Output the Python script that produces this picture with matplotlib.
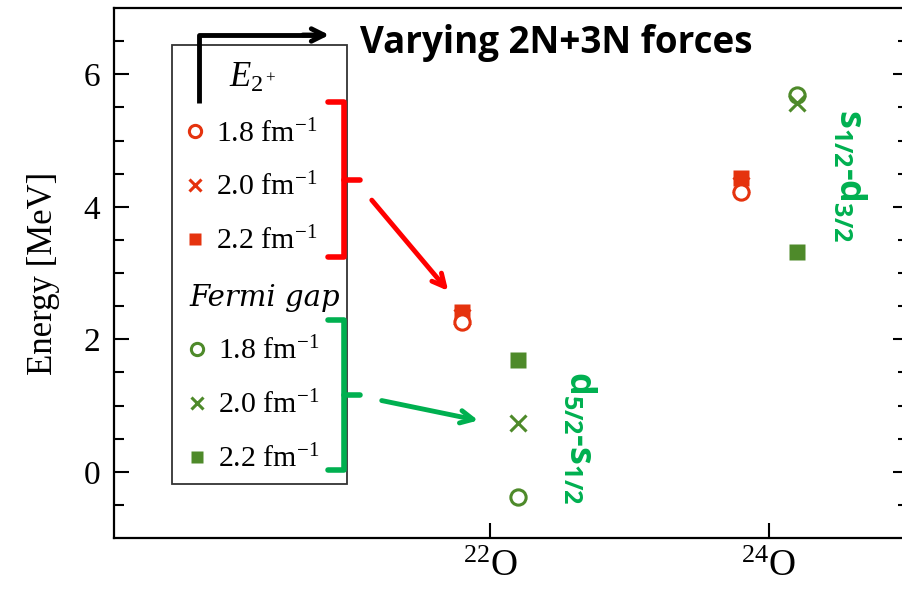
import numpy as np
import matplotlib.pyplot as plt
from matplotlib.patches import Rectangle
from matplotlib.lines import Line2D

# Nuclei positions and energies (MeV) for three cutoffs
nuclei = [22, 24]
nuc_labels = [r'$^{22}$O', r'$^{24}$O']
cutoffs = ['1.8 fm$^{-1}$', '2.0 fm$^{-1}$', '2.2 fm$^{-1}$']

e2_x = [21.8, 23.8]
e2_18 = [2.26, 4.22]
e2_20 = [2.33, 4.33]
e2_22 = [2.41, 4.43]

gap_x = [22.2, 24.2]
gap_18 = [-0.38, 5.68]
gap_20 = [0.74, 5.57]
gap_22 = [1.69, 3.32]

red = '#e5330e'
olive = '#4e8a2a'
bright_green = '#00b050'

plt.rcParams['font.family'] = ['DejaVu Serif']
plt.rcParams['font.serif'] = ['Liberation Serif']
plt.rcParams['mathtext.fontset'] = 'custom'
plt.rcParams['mathtext.rm'] = 'Liberation Serif'
plt.rcParams['mathtext.it'] = 'Liberation Serif:italic'
plt.rcParams['mathtext.bf'] = 'Open Sans:bold'

fig = plt.figure(figsize=(9.03, 5.93), dpi=100)
ax = fig.add_axes([0.1262, 0.0927, 0.8793, 0.8938])

ms = 11
ax.plot(e2_x, e2_20, 'x', color=red, ms=ms, mew=2.2)
ax.plot(e2_x, e2_22, 's', color=red, ms=ms, mec='none')
ax.plot(e2_x, e2_18, 'o', color=red, mfc='white', ms=ms, mew=2.2)

ax.plot(gap_x, gap_18, 'o', color=olive, mfc='white', ms=ms, mew=2.2)
ax.plot(gap_x, gap_20, 'x', color=olive, ms=ms, mew=2.2)
ax.plot(gap_x, gap_22, 's', color=olive, ms=ms, mec='none')

ax.set_xlim(19.3, 25.0)
ax.set_ylim(-1, 7)
ax.set_xticks(nuclei)
ax.set_xticklabels(nuc_labels, fontfamily='Liberation Serif', fontsize=27)
ax.set_yticks([0, 2, 4, 6])
ax.set_yticks(np.arange(-0.5, 7, 0.5), minor=True)
ax.tick_params(axis='y', which='both', direction='in', right=True, labelsize=24, width=1.5, pad=10)
ax.tick_params(axis='y', which='major', length=11)
ax.tick_params(axis='y', which='minor', length=7)
ax.tick_params(axis='x', direction='in', length=11, width=1.5, pad=8)
for lab in ax.get_yticklabels():
    lab.set_fontfamily('Liberation Serif')
for s in ax.spines.values():
    s.set_linewidth(1.6)
ax.set_ylabel('Energy [MeV]', fontfamily='Liberation Serif', fontsize=25, labelpad=17)

# Legend box with two grouped legends inside
box = Rectangle((172 / 903, 1 - 484 / 593), (347 - 172) / 903, (484 - 45) / 593,
                transform=fig.transFigure, fill=False, ec='#333333', lw=1.3, zorder=5)
fig.patches.append(box)

def group_handles(color):
    return [Line2D([], [], ls='none', marker='o', color=color, mfc='white', ms=ms, mew=2.2),
            Line2D([], [], ls='none', marker='x', color=color, ms=ms, mew=2.2),
            Line2D([], [], ls='none', marker='s', color=color, ms=ms, mec='none')]

leg_kw = dict(frameon=False, markerscale=0.8, handlelength=0.5, handletextpad=0.45,
              labelspacing=0.85, prop={'family': 'Liberation Serif', 'size': 21.5},
              bbox_transform=fig.transFigure, loc='upper left')
leg1 = fig.legend(group_handles(red), cutoffs, title=r'$E_{2^+}$',
                  bbox_to_anchor=(161 / 903, 1 - 33 / 593), **leg_kw)
leg1.get_title().set_fontsize(25)
leg2 = fig.legend(group_handles(olive), cutoffs, title='Fermi gap', alignment='left',
                  bbox_to_anchor=(163 / 903, 1 - 257 / 593), **leg_kw)
leg2.get_title().set_fontsize(21)
leg2.get_title().set_fontstyle('italic')

# Overlay annotations in pixel-like figure coordinates
def fx(x):
    return x / 903

def fy(y):
    return 1 - y / 593

fig.add_artist(Line2D([fx(199), fx(199), fx(320)], [fy(103), fy(35), fy(35)],
                      color='black', lw=3.5, solid_capstyle='butt', zorder=6))
ax.annotate('', xy=(fx(332), fy(35)), xytext=(fx(300), fy(35)), xycoords='figure fraction',
            arrowprops=dict(arrowstyle='->,head_length=0.9,head_width=0.45', color='black', lw=3.5))
fig.text(fx(360), fy(43), 'Varying 2N+3N forces', fontfamily='Open Sans', fontweight='bold',
         fontsize=26.5, va='center', ha='left')

for col, top, bot, mid in [('#ff0000', 102, 257, 180), (bright_green, 320, 470, 395)]:
    fig.add_artist(Line2D([fx(328), fx(344), fx(344), fx(328)], [fy(top), fy(top), fy(bot), fy(bot)],
                          color=col, lw=4, solid_joinstyle='round', solid_capstyle='round', zorder=6))
    fig.add_artist(Line2D([fx(344), fx(360)], [fy(mid), fy(mid)], color=col, lw=4,
                          solid_capstyle='round', zorder=6))

ax.annotate('', xy=(fx(450), fy(293)), xytext=(fx(370), fy(198)), xycoords='figure fraction',
            arrowprops=dict(arrowstyle='->,head_length=0.9,head_width=0.45', color='#ff0000', lw=3.5))
ax.annotate('', xy=(fx(481), fy(421)), xytext=(fx(379), fy(400)), xycoords='figure fraction',
            arrowprops=dict(arrowstyle='->,head_length=0.9,head_width=0.45', color=bright_green, lw=3.5))

fig.text(fx(580), fy(437), r'$\mathbf{d_{5/2}}$-$\mathbf{s_{1/2}}$', rotation=-90, color=bright_green,
         fontfamily='Open Sans', fontweight='bold', fontsize=26, ha='center', va='center')
fig.text(fx(850), fy(175), r'$\mathbf{s_{1/2}}$-$\mathbf{d_{3/2}}$', rotation=-90, color=bright_green,
         fontfamily='Open Sans', fontweight='bold', fontsize=26, ha='center', va='center')

fig.savefig('out.png', dpi=100)
